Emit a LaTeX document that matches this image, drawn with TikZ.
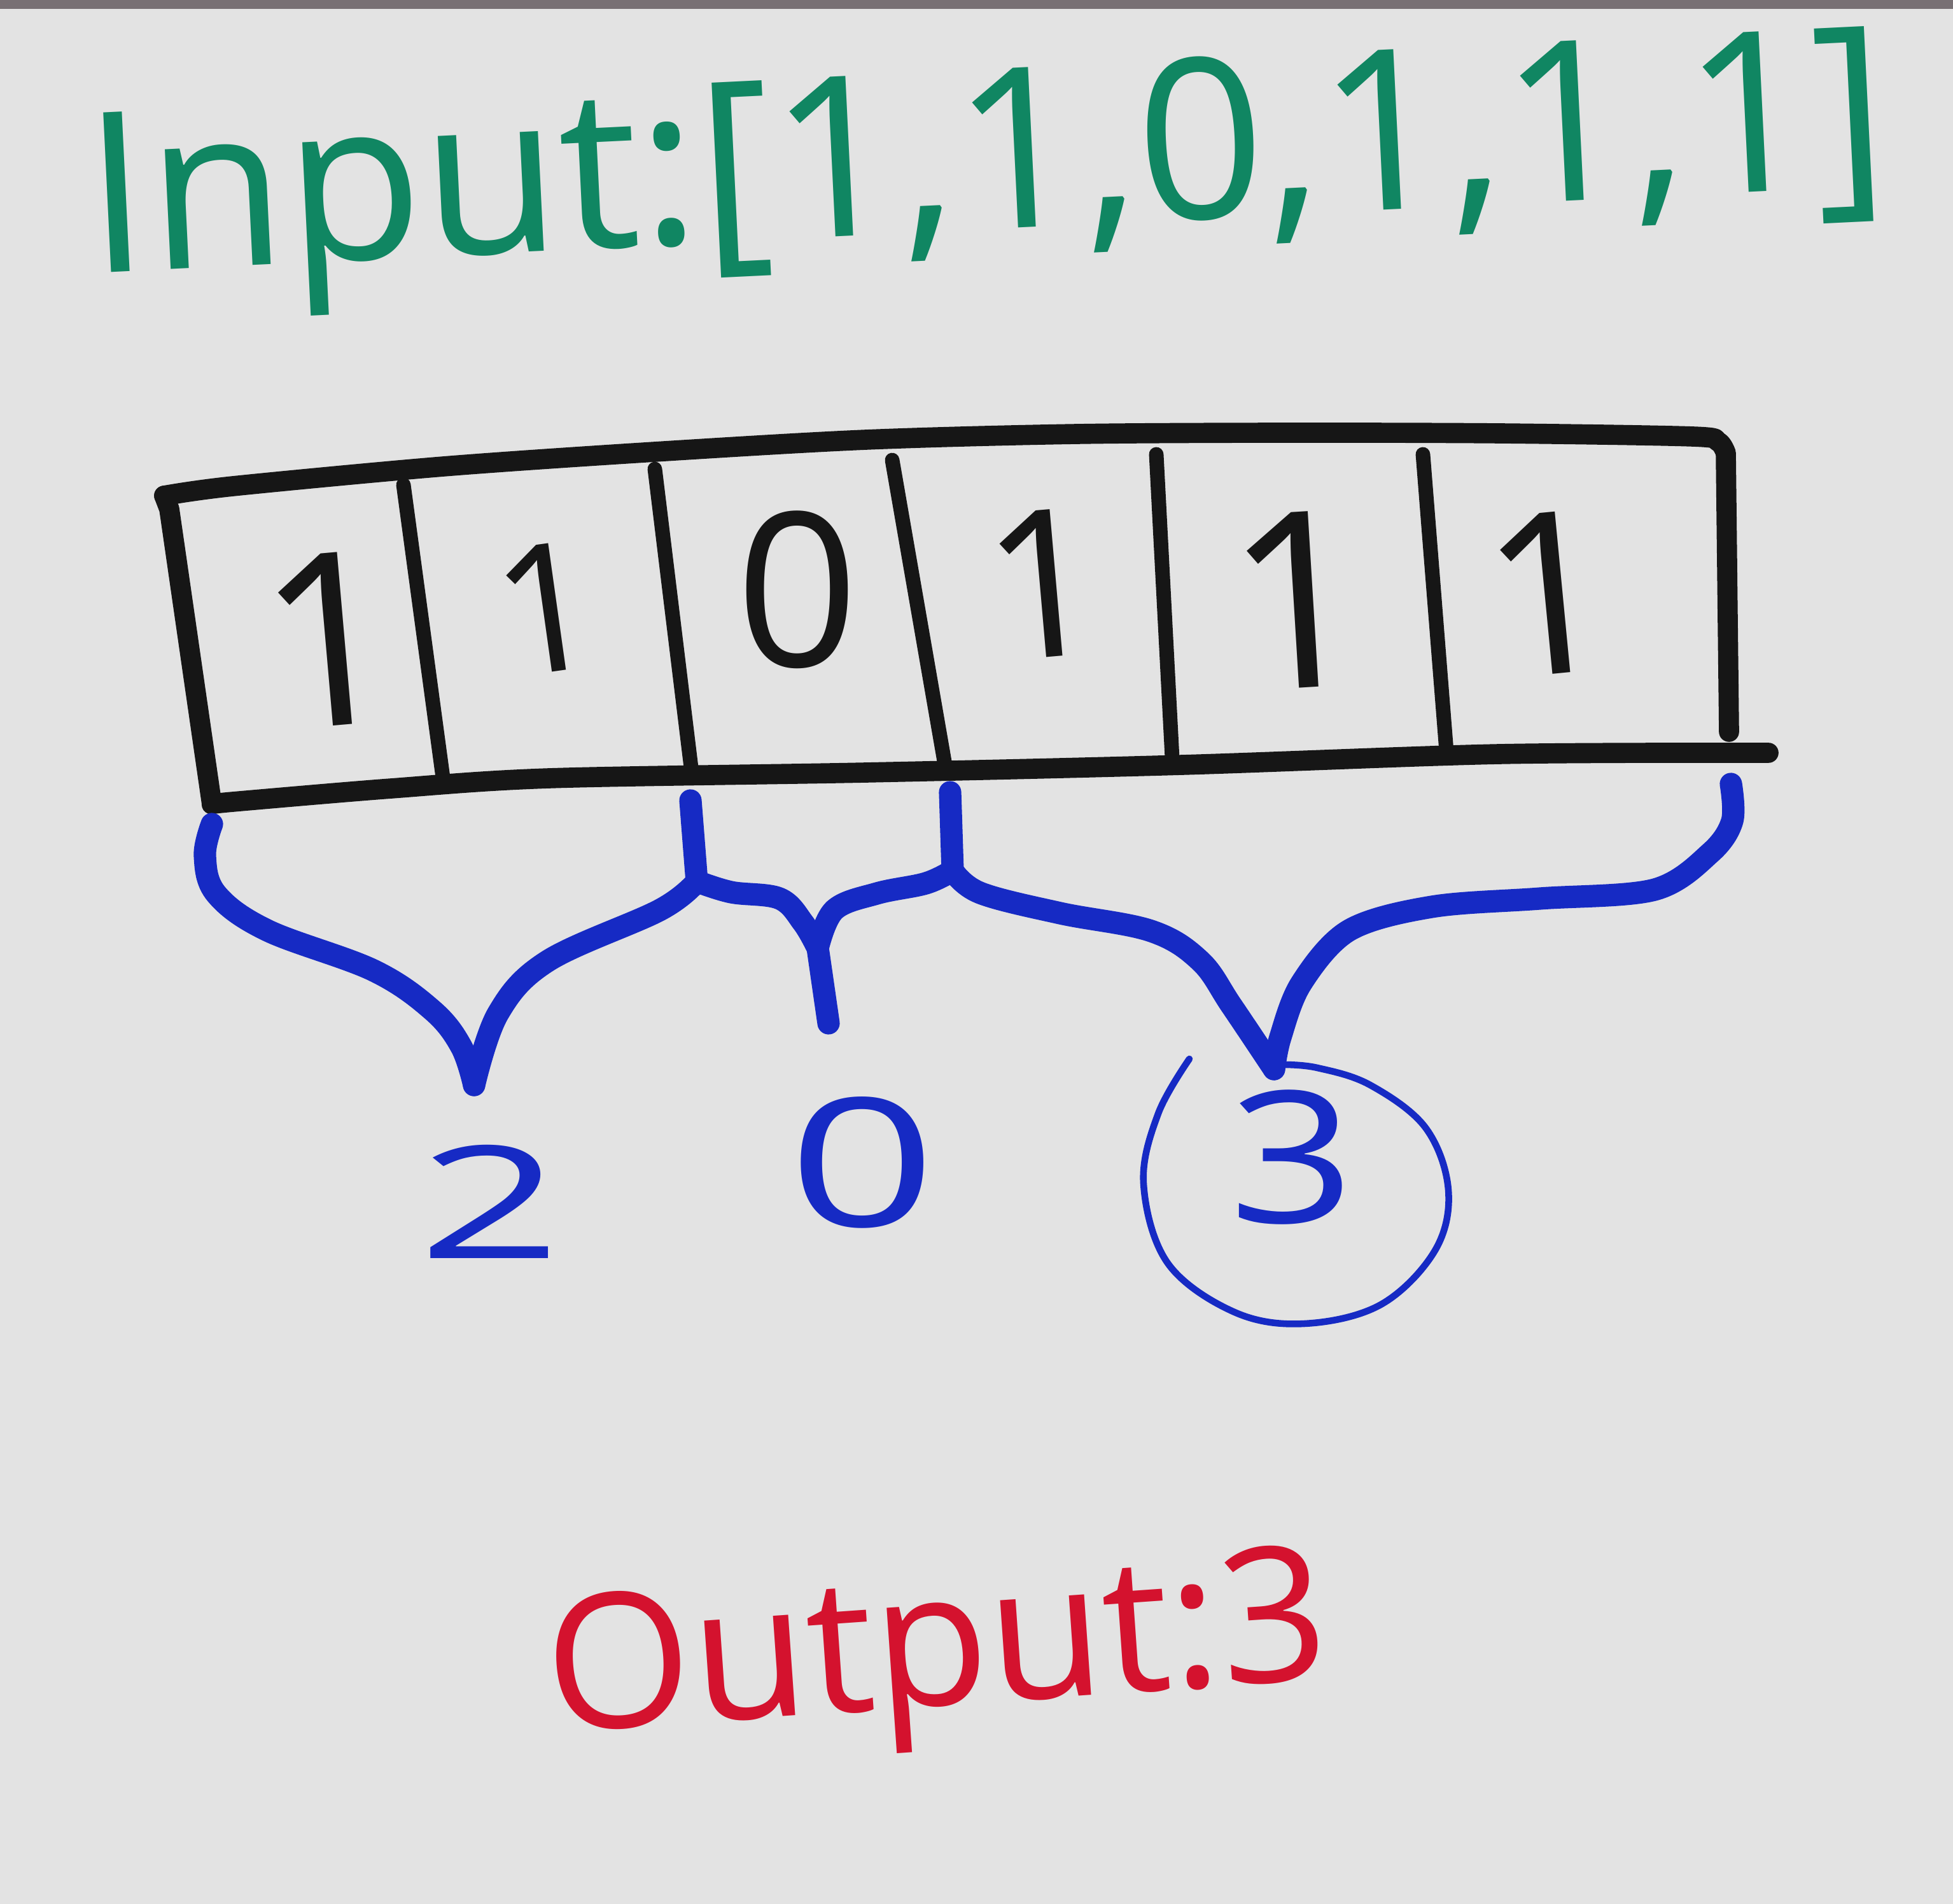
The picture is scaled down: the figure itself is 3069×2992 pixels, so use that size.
\documentclass[tikz,border=0pt]{standalone}
\usepackage{fontspec}
\setmainfont{Open Sans}
\definecolor{board}{RGB}{227,227,227}
\definecolor{bandc}{RGB}{120,112,116}
\definecolor{mgreen}{RGB}{16,134,98}
\definecolor{mblue}{RGB}{22,42,196}
\definecolor{mred}{RGB}{212,18,46}
\definecolor{mink}{RGB}{22,22,22}
\begin{document}
\begin{tikzpicture}[x=0.01cm,y=-0.01cm,
  boxline/.style={draw=mink,line width=9pt,line cap=round,line join=round},
  divline/.style={draw=mink,line width=6.5pt,line cap=round},
  digit/.style={text=mink,font=\fontsize{#1}{#1}\selectfont,inner sep=0pt,anchor=base},
  brace/.style={draw=mblue,line width=10pt,line cap=round,line join=round},
  ringline/.style={draw=mblue,line width=3pt,line cap=round},
  result/.style={text=mblue,font=\fontsize{#1}{#1}\selectfont,inner sep=0pt,anchor=base},
  title/.style={text=mgreen,font=\fontsize{100}{100}\selectfont,inner sep=0pt,anchor=base},
  answer/.style={text=mred,font=\fontsize{84}{84}\selectfont,inner sep=0pt,anchor=base}
  ]
\fill[board] (0,0) rectangle (3069,2992);
\fill[bandc] (0,0) rectangle (3069,14);
\useasboundingbox (0,0) rectangle (3069,2992);

% title
\node[title,rotate=2.8] (input) at (1555,360) {Input:[1,1,0,1,1,1]};

% array box corners
\coordinate (TL) at (258,779);
\coordinate (TR) at (2712,712);
\coordinate (RB) at (2717,1150);
\coordinate (BL) at (333,1264);
\coordinate (BR) at (2779,1183);
\draw[boxline] plot[smooth,tension=0.5] coordinates {(TL) (366,764) (697,733) (1029,710) (1361,691) (1693,682) (2024,680) (2356,681) (2660,686) (2700,694) (TR)} -- (RB);
\draw[boxline] (TL) -- (266,800) -- plot[smooth,tension=0.5] coordinates {(BL) (366,1260) (615,1239) (863,1223) (1361,1214) (1858,1202) (2356,1185) (BR)};

% dividers
\coordinate (d1t) at (634,762);  \coordinate (d1b) at (697,1229);
\coordinate (d2t) at (1029,737); \coordinate (d2b) at (1087,1214);
\coordinate (d3t) at (1402,723); \coordinate (d3b) at (1485,1202);
\coordinate (d4t) at (1817,714); \coordinate (d4b) at (1842,1191);
\coordinate (d5t) at (2236,714); \coordinate (d5b) at (2273,1181);
\foreach \i in {1,...,5} {\draw[divline] (d\i t) -- (d\i b);}

% cell values
\node[digit=108,rotate=5]   (c1) at (530,1140) {1};
\node[digit=80,rotate=8]    (c2) at (872,1055) {1};
\node[digit=96]             (c3) at (1253,1048) {0};
\node[digit=92,rotate=5]    (c4) at (1650,1032) {1};
\node[digit=110,rotate=3.5] (c5) at (2048,1081) {1};
\node[digit=101,rotate=5.5] (c6) at (2446,1059) {1};

% brace stems and tips
\coordinate (s1) at (1085,1258);
\coordinate (j1) at (1095,1385);
\coordinate (s2) at (1493,1245);
\coordinate (j2) at (1497,1368);
\coordinate (b1l) at (333,1295);
\coordinate (b1t) at (745,1705);
\coordinate (b2m) at (1285,1490);
\coordinate (b2t) at (1302,1608);
\coordinate (b3r) at (2720,1232);
\coordinate (b3t) at (2002,1680);

\draw[brace] (s1) -- (j1);
\draw[brace] (s2) -- (j2);
\draw[brace] plot[smooth,tension=0.6] coordinates {(b1l) (322,1345) (340,1405) (420,1462) (587,1525) (680,1588) (725,1645) (b1t)};
\draw[brace] plot[smooth,tension=0.6] coordinates {(j1) (1037,1430) (861,1510) (783,1592) (b1t)};
\draw[brace] plot[smooth,tension=0.6] coordinates {(j1) (1149,1402) (1225,1412) (1262,1450) (b2m)};
\draw[brace] plot[smooth,tension=0.6] coordinates {(j2) (1455,1388) (1378,1404) (1311,1430) (b2m)};
\draw[brace] (b2m) -- (b2t);
\draw[brace] plot[smooth,tension=0.6] coordinates {(j2) (1540,1403) (1666,1435) (1809,1463) (1886,1510) (1935,1580) (b3t)};
\draw[brace] plot[smooth,tension=0.55] coordinates {(b3r) (2722,1290) (2688,1340) (2600,1398) (2420,1412) (2250,1425) (2120,1462) (2045,1545) (2012,1630) (b3t)};

% counts
\node[result=70] (n2) at (770,1977) {\scalebox{1.6}[1]{2}};
\node[result=80] (n0) at (1355,1927) {\scalebox{1.45}[1]{0}};
\node[result=82] (n3) at (2030,1921) {\scalebox{1.2}[1]{3}};
\coordinate (ring) at (1869,1664);
\draw[ringline] plot[smooth,tension=0.6] coordinates {(ring) (1820,1750) (1797,1860) (1835,1985) (1940,2062) (2050,2080) (2170,2050) (2255,1965) (2276,1870) (2240,1772) (2153,1705) (2070,1678) (2016,1673)};

% output
\node[answer,rotate=4] (output) at (1478,2680) {Output:3};
\end{tikzpicture}
\end{document}
